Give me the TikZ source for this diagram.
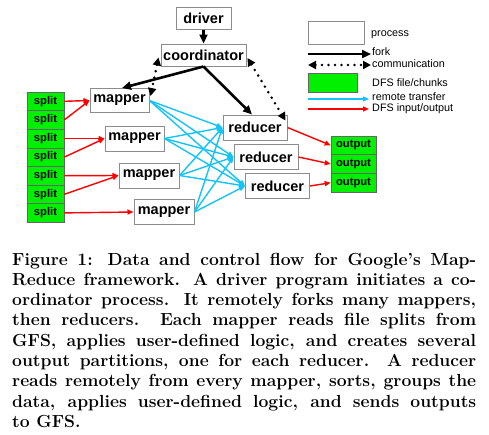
\documentclass[tikz,border=0pt]{standalone}
\usepackage{fontspec}
\newfontfamily\arial{Liberation Sans}
\usetikzlibrary{arrows.meta,calc}
\definecolor{boxgray}{RGB}{140,140,140}
\definecolor{dfsgreen}{RGB}{0,240,0}
\definecolor{xferblue}{RGB}{20,195,250}
\definecolor{ioRed}{RGB}{255,0,0}
\tikzset{
  proc/.style={draw=boxgray,line width=1pt,fill=white,inner sep=0pt,font=\arial\bfseries\fontsize{14.5}{16}\selectfont},
  dfs/.style={draw=black!60,line width=0.6pt,fill=dfsgreen,inner sep=0pt,minimum width=37pt,minimum height=18.6pt,font=\arial\bfseries\fontsize{11.2}{12}\selectfont},
  fork/.style={line width=2.6pt,-{Triangle[length=9pt,width=8pt]}},
  comm/.style={line width=2.8pt,line cap=round,dash pattern=on 0pt off 6.5pt,{Triangle[length=8pt,width=8pt]}-{Triangle[length=8pt,width=8pt]}},
  xfer/.style={draw=xferblue,line width=1.4pt,-{Triangle[length=6pt,width=5pt]}},
  dfsio/.style={draw=ioRed,line width=1.4pt,-{Triangle[length=6pt,width=5pt]}},
  legtext/.style={anchor=west,inner sep=0pt,font=\arial\fontsize{10.8}{12}\selectfont},
}
\begin{document}
\begin{tikzpicture}[x=1pt,y=-1pt]
\useasboundingbox (0,0) rectangle (489,434);
% process nodes
\node[proc,minimum width=55pt,minimum height=22pt] (driver) at (203.5,18) {driver};
\node[proc,minimum width=85pt,minimum height=22pt] (coord) at (203.5,55) {coordinator};
\node[proc,minimum width=59pt,minimum height=24pt] (m1) at (119.5,100.5) {mapper};
\node[proc,minimum width=59pt,minimum height=25pt] (m2) at (134.5,138.5) {mapper};
\node[proc,minimum width=60pt,minimum height=25pt] (m3) at (149,175.5) {mapper};
\node[proc,minimum width=60pt,minimum height=25pt] (m4) at (164,212) {mapper};
\node[proc,minimum width=64pt,minimum height=25pt] (r1) at (255,127.5) {reducer};
\node[proc,minimum width=64pt,minimum height=25pt] (r2) at (266,157) {reducer};
\node[proc,minimum width=64pt,minimum height=25pt] (r3) at (277.5,186) {reducer};
% splits
\foreach \i/\y in {1/101.3,2/119.9,3/138.5,4/157.1,5/175.7,6/194.3,7/212.9}
  \node[dfs] (s\i) at (45.5,\y) {split};
% outputs
\foreach \i/\y in {1/145.3,2/164,3/182.7}
  \node[dfs,minimum width=45pt,minimum height=18.7pt] (o\i) at (353.5,\y) {output};
% remote transfer
\foreach \m in {m1,m2,m3,m4}
  \foreach \r in {r1,r2,r3}
    \draw[xfer] (\m.east) -- (\r.west);
% DFS input
\draw[dfsio] (s1.east) -- (m1.west);
\draw[dfsio] (s2.east) -- (m1.west);
\draw[dfsio] (s3.east) -- (m2.west);
\draw[dfsio] (s4.east) -- (m2.west);
\draw[dfsio] (s5.east) -- (m3.west);
\draw[dfsio] (s6.east) -- (m3.west);
\draw[dfsio] (s7.east) -- (m4.west);
% DFS output
\draw[dfsio] (r1.east) -- (o1.west);
\draw[dfsio] (r2.east) -- (o2.west);
\draw[dfsio] (r3.east) -- (o3.west);
% fork
\draw[fork] (driver.south) -- (coord.north);
\coordinate (m1top) at ($(m1.north)+(2.5,0)$);
\coordinate (r1top) at ($(r1.north)+(-3,0)$);
\draw[fork] (coord.south) -- (m1top);
\draw[fork] (coord.south) -- (r1top);
% communication
\coordinate (cA) at ($(coord.south west)+(-2,-9)$);
\coordinate (mA) at ($(m1.north east)+(1,8)$);
\coordinate (cB) at ($(coord.east)+(1,3)$);
\coordinate (rB) at ($(r1.north east)+(-2,6)$);
\draw[comm] (cA) -- (mA);
\draw[comm] (cB) -- (rB);
% legend
\node[proc,minimum width=56pt,minimum height=23pt] (lp) at (336,32.5) {};
\node[legtext] (tp) at (371,35) {process};
\coordinate (lf1) at (308,54);
\coordinate (lf2) at (371,54);
\draw[fork] (lf1) -- (lf2);
\node[legtext] (tf) at (372,52) {fork};
\coordinate (lc1) at (308,65);
\coordinate (lc2) at (371,65);
\draw[comm] (lc1) -- (lc2);
\node[legtext] (tc) at (372,64) {communication};
\node[dfs,minimum width=49pt,minimum height=19pt] (ld) at (332.5,82.5) {};
\node[legtext] (td) at (372,83) {DFS file/chunks};
\coordinate (lr1) at (308,99);
\coordinate (lr2) at (369,99);
\draw[xfer] (lr1) -- (lr2);
\node[legtext] (tr) at (372,97) {remote transfer};
\coordinate (li1) at (308,109);
\coordinate (li2) at (369,109);
\draw[dfsio] (li1) -- (li2);
\node[legtext] (ti) at (372,108.5) {DFS input/output};
% caption
\node[anchor=base west,inner sep=0pt,text width=464pt,align=justify,
      font=\fontsize{17.5}{20.3}\selectfont\bfseries] (cap) at (12,265)
{\noindent Figure 1: Data and control flow for Google's Map-\linebreak
Reduce framework. A driver program initiates a co-\linebreak
ordinator process. It remotely forks many mappers,\linebreak
then reducers. Each mapper reads file splits from\linebreak
GFS, applies user-defined logic, and creates several\linebreak
output partitions, one for each reducer. A reducer\linebreak
reads remotely from every mapper, sorts, groups the\linebreak
data, applies user-defined logic, and sends outputs\linebreak
to GFS.};
\end{tikzpicture}
\end{document}
